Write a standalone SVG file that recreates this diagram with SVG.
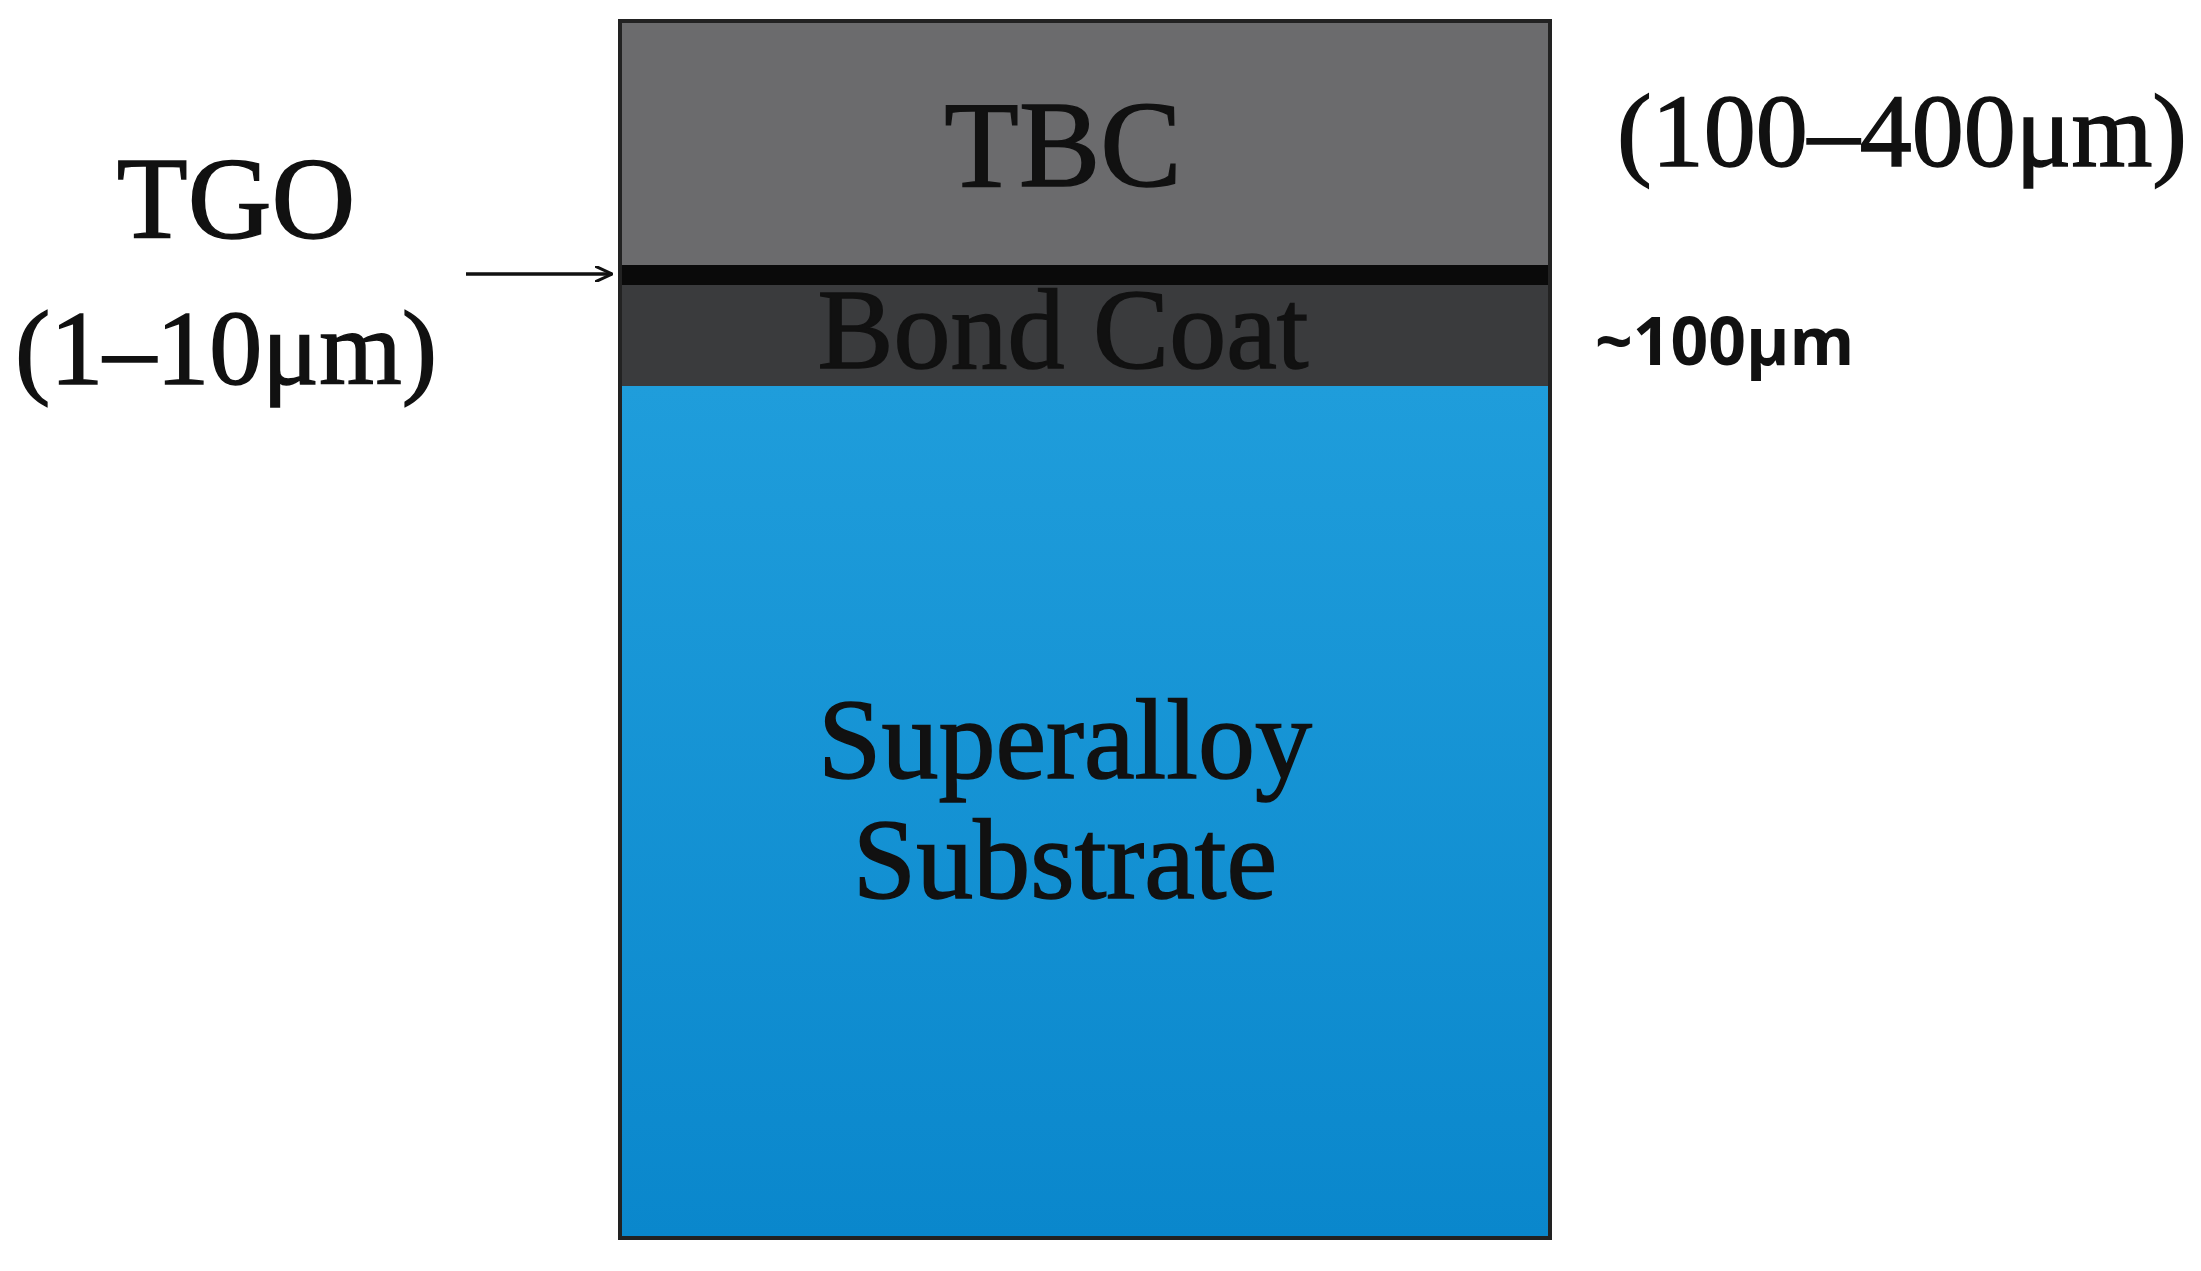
<svg xmlns="http://www.w3.org/2000/svg" width="2201" height="1271" viewBox="0 0 2201 1271">
<style>
.s{font-family:"Liberation Serif",serif;fill:#111;stroke:#111;stroke-width:1.5}
</style>
<defs>
<linearGradient id="g" x1="0" y1="0" x2="0" y2="1"><stop offset="0" stop-color="#1f9ddb"/><stop offset="1" stop-color="#0a87cc"/></linearGradient>
<marker id="a" markerWidth="18" markerHeight="16" refX="17" refY="8" orient="auto" markerUnits="userSpaceOnUse"><path d="M0,0 L17,8 L0,16" fill="none" stroke="#111" stroke-width="3"/></marker>
</defs>
<rect width="2201" height="1271" fill="#fff"/>
<g id="tbc"><rect x="620" y="21" width="930" height="244" fill="#6b6b6d"/><text class="s" x="1063" y="186" font-size="122" text-anchor="middle">TBC</text></g>
<g id="tgo"><rect x="620" y="265" width="930" height="20" fill="#0a0a0a"/></g>
<g id="bond"><rect x="620" y="285" width="930" height="101" fill="#3a3b3d"/><text class="s" x="1063" y="368" font-size="114" text-anchor="middle">Bond Coat</text></g>
<g id="sub"><rect x="620" y="386" width="930" height="852" fill="url(#g)"/>
<text class="s" x="1065" y="778" font-size="114" text-anchor="middle">Superalloy</text>
<text class="s" x="1065" y="898" font-size="114" text-anchor="middle">Substrate</text></g>
<rect x="620" y="21" width="930" height="1217" fill="none" stroke="#222" stroke-width="4"/>
<g id="labels">
<text class="s" x="1902" y="166" font-size="104" text-anchor="middle">(100–400μm)</text>
<text class="s" x="236" y="238" font-size="116" text-anchor="middle" stroke-width="3">TGO</text>
<text class="s" x="226" y="384" font-size="106" text-anchor="middle">(1–10μm)</text>
<text x="1595" y="365" font-size="66" font-weight="bold" font-family="Open Sans,sans-serif" fill="#111">~100μm</text>
</g>
<g id="connectors"><line x1="466" y1="274" x2="612" y2="274" stroke="#111" stroke-width="3.5" marker-end="url(#a)"/></g>
</svg>
